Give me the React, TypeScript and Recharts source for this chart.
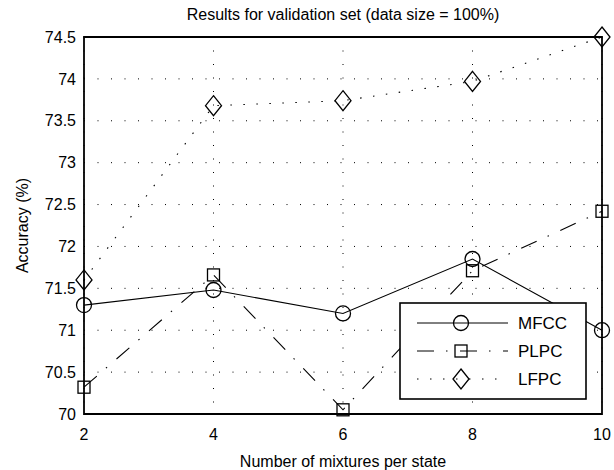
import React from 'react';
import {
  CartesianGrid,
  Legend,
  Line,
  LineChart,
  ReferenceArea,
  XAxis,
  YAxis,
} from 'recharts';

const FONT = '"Liberation Sans", Arial, Helvetica, sans-serif';
const INK = '#000000';

const MIXTURES = [2, 4, 6, 8, 10];
const MFCC = [71.3, 71.48, 71.2, 71.85, 71.0];
const PLPC = [70.32, 71.66, 70.05, 71.71, 72.42];
const LFPC = [71.6, 73.68, 73.74, 73.97, 74.5];
const Y_TICKS = [70, 70.5, 71, 71.5, 72, 72.5, 73, 73.5, 74, 74.5];

const SERIES = [
  { key: 'MFCC', dash: undefined, marker: 'circle' },
  { key: 'PLPC', dash: '17 12 1.5 12.5', marker: 'square' },
  { key: 'LFPC', dash: '1.5 11.5', marker: 'diamond' },
] as const;

const chartData = MIXTURES.map((n, i) => ({
  n,
  MFCC: MFCC[i],
  PLPC: PLPC[i],
  LFPC: LFPC[i],
}));

function Marker({ kind, cx, cy }: { kind: string; cx: number; cy: number }) {
  if (kind === 'circle') {
    return <circle cx={cx} cy={cy} r={7.5} fill="none" stroke={INK} strokeWidth={1.3} />;
  }
  if (kind === 'square') {
    return <rect x={cx - 6} y={cy - 6} width={12} height={12} fill="none" stroke={INK} strokeWidth={1.3} />;
  }
  return (
    <path
      d={`M${cx},${cy - 10} L${cx + 8},${cy} L${cx},${cy + 10} L${cx - 8},${cy} Z`}
      fill="none"
      stroke={INK}
      strokeWidth={1.3}
    />
  );
}

function renderDot(kind: string) {
  return (props: any) => {
    const { cx, cy, index } = props;
    if (cx == null || cy == null) return <g key={`${kind}-${index}`} />;
    return (
      <g key={`${kind}-${index}`}>
        <Marker kind={kind} cx={cx} cy={cy} />
      </g>
    );
  };
}

function LegendBox() {
  return (
    <svg width={188} height={98} style={{ display: 'block' }}>
      <rect x={1} y={1} width={186} height={96} fill="#fff" stroke={INK} strokeWidth={1.6} />
      {SERIES.map((s, i) => {
        const y = 21 + i * 28;
        return (
          <g key={s.key}>
            <line x1={18} x2={109} y1={y} y2={y} stroke={INK} strokeWidth={1} strokeDasharray={s.dash} />
            <Marker kind={s.marker} cx={62} cy={y} />
            <text x={119} y={y + 6} fontFamily={FONT} fontSize={17} fill={INK}>
              {s.key}
            </text>
          </g>
        );
      })}
    </svg>
  );
}

export default function App() {
  return (
    <div style={{ position: 'absolute', left: 0, top: 0, width: 614, height: 470, background: '#fff' }}>
      <div
        style={{
          position: 'absolute',
          left: 84,
          width: 518,
          top: 6,
          textAlign: 'center',
          fontFamily: FONT,
          fontSize: 16,
          color: INK,
        }}
      >
        Results for validation set (data size = 100%)
      </div>
      <LineChart
        width={614}
        height={470}
        data={chartData}
        margin={{ top: 37, right: 12, bottom: 0, left: 0 }}
      >
        <CartesianGrid stroke={INK} strokeDasharray="1 12.5" strokeWidth={1} />
        <XAxis
          dataKey="n"
          type="number"
          domain={[2, 10]}
          ticks={MIXTURES}
          height={56}
          tickLine={false}
          axisLine={false}
          tickMargin={9}
          tick={{ fill: INK, fontSize: 16, fontFamily: FONT }}
          label={{
            value: 'Number of mixtures per state',
            position: 'insideBottom',
            offset: 3,
            fill: INK,
            fontSize: 16,
            fontFamily: FONT,
          }}
        />
        <YAxis
          type="number"
          domain={[70, 74.5]}
          ticks={Y_TICKS}
          width={84}
          tickLine={false}
          axisLine={false}
          tickMargin={2}
          interval={0}
          tick={{ fill: INK, fontSize: 16, fontFamily: FONT }}
          label={{
            value: 'Accuracy (%)',
            angle: -90,
            position: 'insideLeft',
            offset: 22,
            style: { textAnchor: 'middle' },
            fill: INK,
            fontSize: 16,
            fontFamily: FONT,
          }}
        />
        <ReferenceArea x1={2} x2={10} y1={70} y2={74.5} fill="none" stroke={INK} strokeWidth={1.8} strokeOpacity={1} fillOpacity={0} />
        {SERIES.map((s) => (
          <Line
            key={s.key}
            dataKey={s.key}
            type="linear"
            stroke={INK}
            strokeWidth={1.1}
            strokeDasharray={s.dash}
            dot={renderDot(s.marker)}
            activeDot={false}
            isAnimationActive={false}
            legendType="none"
          />
        ))}
        <Legend
          layout="vertical"
          align="center"
          verticalAlign="middle"
          content={() => <LegendBox />}
          wrapperStyle={{ left: 399, top: 302, width: 188, height: 98 }}
        />
      </LineChart>
    </div>
  );
}
